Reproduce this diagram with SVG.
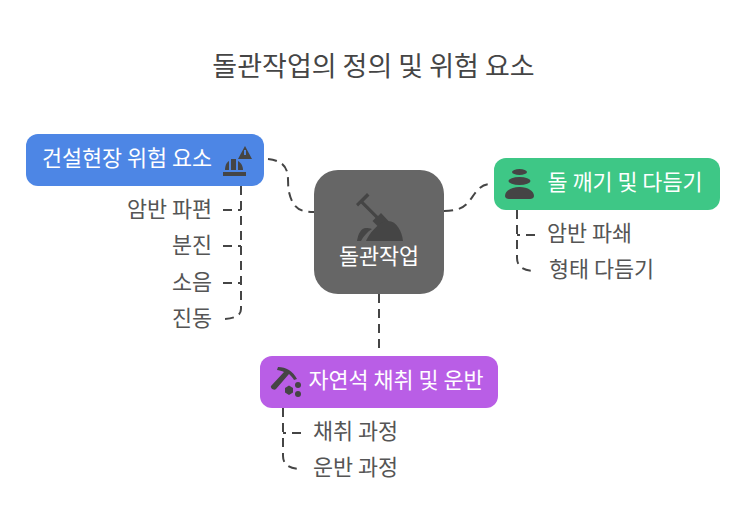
<svg xmlns="http://www.w3.org/2000/svg" width="746" height="530" viewBox="0 0 746 530">
<style>
text{font-family:"Noto Sans CJK KR","Noto Sans",sans-serif}
.t{font-size:27px;fill:#454545}
.n{font-size:21.800px;fill:#fff}
.l{font-size:21.800px;fill:#555}
.c{fill:none;stroke:#454545;stroke-width:2;stroke-dasharray:9 6}
.i{fill:#454545}
</style>
<rect width="746" height="530" fill="#fff"/>
<text id="title" class="t" x="373.500" y="76" text-anchor="middle">돌관작업의 정의 및 위험 요소</text>
<g id="connectors">
<path class="c" d="M268 159C294 162 286 180 289 192C293 210 302 212 314 212"/>
<path class="c" d="M444 211C466 211 468 202 476 192C480 187 484 184 490 184"/>
<path class="c" d="M379 294V350"/>
<path class="c" d="M241 186V309Q241 319 221 319"/>
<path class="c" d="M223 210H241"/>
<path class="c" d="M223 246H241"/>
<path class="c" d="M223 283H241"/>
<path class="c" d="M517 210V258Q517 271 536 271"/>
<path class="c" d="M535 235H517"/>
<path class="c" d="M283 408V456Q283 469 302 469"/>
<path class="c" d="M301 433H283"/>
</g>
<g id="node-center">
<rect x="314" y="170" width="130" height="124" rx="24" fill="#666"/>
<path class="i" d="M356 204l11-11 2.500 2.500-6 6 14.500 14.500 3-3 7.500 8-8 8-8-8 3-3-14.500-14.500-3 3z"/>
<path class="i" d="M366 241c4-9 14-20 22-20 9 0 14 11 15 20z"/>
<path class="i" d="M357 241c1-7 4-13 9-13 2 0 4 0 6 1-5 3-9 8-11 12z"/>
<text class="n" x="379" y="264" text-anchor="middle">돌관작업</text>
</g>
<g id="node-hazard">
<rect x="26" y="134" width="238" height="52" rx="12" fill="#4d86e5"/>
<text class="n" x="127" y="166" text-anchor="middle">건설현장 위험 요소</text>
<path class="i" d="M245 146l7 13h-14z"/>
<rect x="223" y="172" width="23" height="4" class="i"/>
<path class="i" d="M225 170c0-5 2-8 4-9v9z"/>
<path class="i" d="M231 170v-11h5v11z"/>
<path class="i" d="M238 170v-9c2 1 5 4 5 9z"/>
<rect x="244" y="150" width="2" height="5" fill="#4d86e5"/>
<text class="l" x="212" y="217" text-anchor="end">암반 파편</text>
<text class="l" x="212" y="253" text-anchor="end">분진</text>
<text class="l" x="212" y="290" text-anchor="end">소음</text>
<text class="l" x="212" y="326" text-anchor="end">진동</text>
</g>
<g id="node-stone">
<rect x="494" y="158" width="226" height="52" rx="12" fill="#3ec786"/>
<ellipse class="i" cx="519.500" cy="172" rx="7.500" ry="3"/>
<ellipse class="i" cx="519.500" cy="181" rx="11" ry="4"/>
<path class="i" d="M505 196c0-5 6-9 14.500-9s14.500 4 14.500 9c0 2-2 3-4 3h-21c-2 0-4-1-4-3z"/>
<text class="n" x="625" y="190" text-anchor="middle">돌 깨기 및 다듬기</text>
<text class="l" x="547" y="241">암반 파쇄</text>
<text class="l" x="549" y="277">형태 다듬기</text>
</g>
<g id="node-natural">
<rect x="260" y="356" width="238" height="52" rx="12" fill="#b95ee6"/>
<path class="i" d="M271 386l13-14c-2-1-5-2-7-2l1-3c8 0 15 4 19 12l-3 1c-1-2-3-4-5-6l-13 15c-2 2-6-1-5-3z"/>
<path class="i" d="M289 385.500l4 2.500v4.500l-4 2.500-4-2.500v-4.500z"/>
<circle class="i" cx="298" cy="385" r="3"/>
<circle class="i" cx="298" cy="394" r="3"/>
<text class="n" x="396" y="388" text-anchor="middle">자연석 채취 및 운반</text>
<text class="l" x="313" y="439">채취 과정</text>
<text class="l" x="313" y="475">운반 과정</text>
</g>
</svg>
